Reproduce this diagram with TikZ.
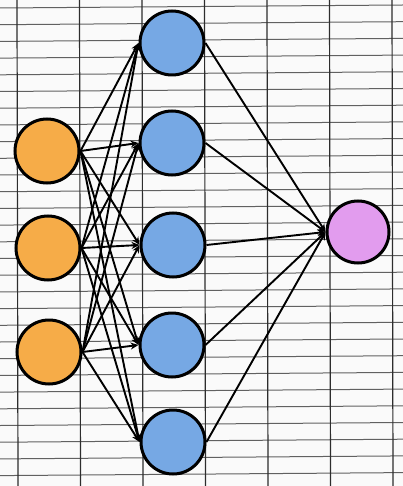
\documentclass[tikz,border=0pt]{standalone}
\usepackage{tikz}
\usetikzlibrary{arrows.meta}
\definecolor{nnorange}{RGB}{246,172,72}
\definecolor{nnblue}{RGB}{118,168,228}
\definecolor{nnpink}{RGB}{226,156,238}
\definecolor{nngrid}{RGB}{45,45,45}

\begin{document}
\begin{tikzpicture}[x=1pt,y=-1pt,
      u/.style={circle,draw,line width=3pt,minimum size=64pt,inner sep=0pt},
      a/.style={-{Stealth[length=8pt,width=7pt]},line width=1.9pt}]
      % paper
      \fill[white!96!gray] (0,0) rectangle (403,486);
      \useasboundingbox (0,0) rectangle (403,486);
      \foreach \y in {0,16.7,...,486}
        \draw[nngrid!75,line width=1pt] (0,\y+8)--(403,\y+5);
      \foreach \x in {17,79.5,...,403}
        \draw[nngrid,line width=1.2pt] (\x,0)--(\x+1,486);
      % units
      \node[u,fill=nnorange] (i1) at (47,151) {};
      \node[u,fill=nnorange] (i2) at (48,248) {};
      \node[u,fill=nnorange] (i3) at (49,352) {};
      \node[u,fill=nnblue] (h1) at (172,43) {};
      \node[u,fill=nnblue] (h2) at (172,143) {};
      \node[u,fill=nnblue] (h3) at (173,245) {};
      \node[u,fill=nnblue] (h4) at (172,345) {};
      \node[u,fill=nnblue] (h5) at (173,442) {};
      \node[u,fill=nnpink,minimum size=62pt] (o) at (358,232) {};
      % connections
      \foreach \i in {1,2,3}
        \foreach \h in {1,...,5}
          \draw[a] (i\i.east)--(h\h.west);
      \foreach \h in {1,...,5}
        \draw[a] (h\h.east)--(o.west);
    \end{tikzpicture}
\end{document}
